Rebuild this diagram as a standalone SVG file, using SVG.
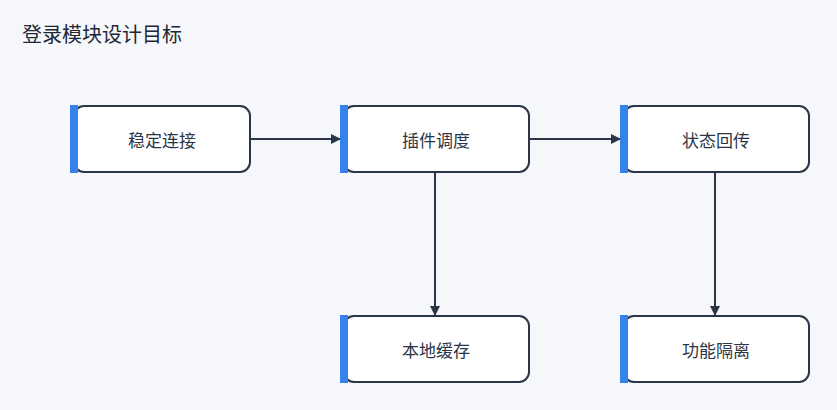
<svg xmlns="http://www.w3.org/2000/svg" width="837" height="410" viewBox="0 0 837 410">
<style>
.box{fill:#fff;stroke:#2b3548;stroke-width:2}
.acc{fill:#3582ea}
.lbl{font-family:"Noto Sans CJK SC",sans-serif;font-size:17px;fill:#2b3548;text-anchor:middle;dominant-baseline:central}
.edge{stroke:#2b3548;stroke-width:2;fill:none;marker-end:url(#ah)}
</style>
<defs><marker id="ah" markerWidth="10" markerHeight="10" refX="9" refY="5" orient="auto" markerUnits="userSpaceOnUse"><path d="M0,0 L10,5 L0,10 z" fill="#2b3548"/></marker></defs>
<rect width="837" height="410" fill="#f5f7fb"/>
<text x="22" y="42" font-family="Noto Sans CJK SC,sans-serif" font-size="20" fill="#1f2735">登录模块设计目标</text>
<g id="edges">
<line class="edge" x1="250" y1="139" x2="340" y2="139"/>
<line class="edge" x1="529" y1="139" x2="620" y2="139"/>
<line class="edge" x1="435" y1="173" x2="435" y2="315"/>
<line class="edge" x1="715" y1="173" x2="715" y2="315"/>
</g>
<g id="n1"><rect class="box" x="74" y="106" width="176" height="66" rx="10"/><rect class="acc" x="70" y="105" width="8" height="68"/><text class="lbl" x="162" y="139">稳定连接</text></g>
<g id="n2"><rect class="box" x="344" y="106" width="185" height="66" rx="10"/><rect class="acc" x="340" y="105" width="8" height="68"/><text class="lbl" x="436" y="139">插件调度</text></g>
<g id="n3"><rect class="box" x="624" y="106" width="185" height="66" rx="10"/><rect class="acc" x="620" y="105" width="8" height="68"/><text class="lbl" x="716" y="139">状态回传</text></g>
<g id="n4"><rect class="box" x="344" y="316" width="185" height="66" rx="10"/><rect class="acc" x="340" y="315" width="8" height="68"/><text class="lbl" x="436" y="349">本地缓存</text></g>
<g id="n5"><rect class="box" x="624" y="316" width="185" height="66" rx="10"/><rect class="acc" x="620" y="315" width="8" height="68"/><text class="lbl" x="716" y="349">功能隔离</text></g>
</svg>
